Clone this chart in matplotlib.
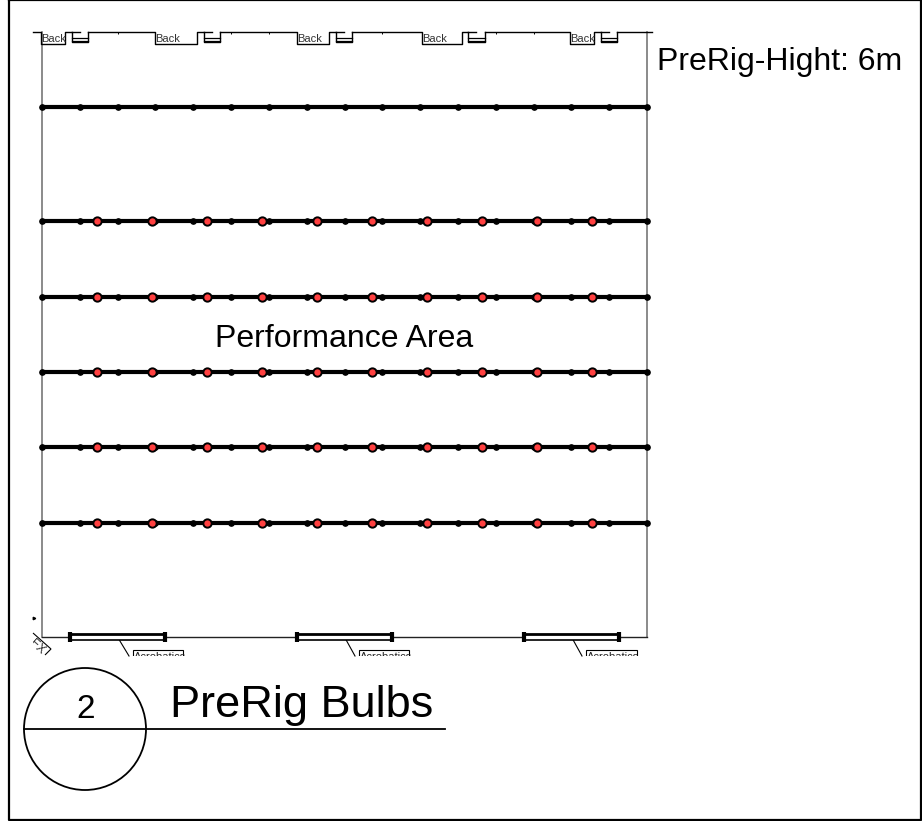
import matplotlib
matplotlib.use('Agg')
import matplotlib.pyplot as plt
from matplotlib.patches import Circle, Rectangle, Polygon

plt.rcParams['font.family'] = ['Liberation Sans', 'DejaVu Sans']

# rig bars (pixel coordinates of the drawing)
rig_y = [107, 221, 297, 372, 447, 523]
rig_left = 42
rig_right = 647
dot_x = [42, 80, 118, 155, 193, 231, 269, 307, 345, 382, 420, 458, 496, 534, 571, 609, 647]
bulb_x = [97, 152, 207, 262, 317, 372, 427, 482, 537, 592]
bulb_rows = [221, 297, 372, 447, 523]

# top wall: box start, box end, notch start, notch end
back_start = [41, 155, 297, 421.5, 570]
back_end = [64.5, 197, 329, 461.5, 594]
notch_start = [72, 204, 336, 468, 601]
notch_end = [88, 220, 352, 485, 617]
tick_x = [118, 231, 269, 382, 496, 534]

# acrobatics rails
rail_start = [70, 297, 524]
rail_end = [165, 392, 619]
label_start = [133, 359, 586]
label_end = [183, 409, 637]

fig = plt.figure(figsize=(9.22, 8.21), dpi=100)
ax = fig.add_axes([0, 0, 1, 1])
ax.set_xlim(0, 922)
ax.set_ylim(821, 0)
ax.axis('off')

# outer frame
ax.plot([8.5, 8.5, 921, 921, 8.5], [0.5, 820, 820, 0.5, 0.5], color='black', lw=1.6)

# stage outline
ax.plot([42, 42], [32, 637], color='#777777', lw=1.2)
ax.plot([647, 647], [32, 637], color='#777777', lw=1.2)
ax.plot([42, 647], [637, 637], color='#222222', lw=1)

# top wall
prev = 33
for bs, be, ns, ne in zip(back_start, back_end, notch_start, notch_end):
    ax.plot([prev, bs, bs, be, be, ns - 1], [32, 32, 44.5, 44.5, 32, 32], color='black', lw=1)
    ax.plot([ns, ns, ne, ne], [32, 42.5, 42.5, 32], color='black', lw=1)
    ax.plot([ns, ne], [38.5, 38.5], color='black', lw=0.9)
    ax.plot([ns, ne], [41, 41], color='black', lw=0.9)
    ax.plot([ns, ns + 8], [32, 32], color='black', lw=1)
    ax.text(bs + 0.5, 39, 'Back', fontsize=8, va='center', ha='left', color='#333333')
    prev = ne
ax.plot([prev, 652], [32, 32], color='black', lw=1)
ax.plot(tick_x, [33] * len(tick_x), ls='none', marker='|', ms=1.5, color='black', mew=0.7)

# rig bars and bulbs
for y in rig_y:
    ax.plot([rig_left, rig_right], [y, y], color='black', lw=3, solid_capstyle='butt')
    ax.plot(dot_x, [y] * len(dot_x), ls='none', marker='o', ms=3.8, color='black')
for y in bulb_rows:
    ax.plot(bulb_x, [y] * len(bulb_x), ls='none', marker='o', ms=6,
            markerfacecolor='#ff4040', markeredgecolor='black', markeredgewidth=1.4)

# acrobatics rails with clipped labels
clip = Rectangle((0, 0), 922, 656, transform=ax.transData)
for rs, re, ls, le in zip(rail_start, rail_end, label_start, label_end):
    ax.add_patch(Rectangle((rs, 635), re - rs, 5.5, facecolor='white', edgecolor='none', zorder=3))
    ax.plot([rs, re], [634.5, 634.5], color='black', lw=2, zorder=4)
    ax.plot([rs, re], [640.5, 640.5], color='black', lw=1.2, zorder=4)
    ax.plot([rs, rs], [632, 642.5], color='black', lw=3, solid_capstyle='butt', zorder=4)
    ax.plot([re, re], [632, 642.5], color='black', lw=3, solid_capstyle='butt', zorder=4)
    mid = (rs + re) / 2
    ax.plot([mid, ls - 4], [637, 656], color='black', lw=0.8)
    box = Rectangle((ls, 650), le - ls, 12, facecolor='white', edgecolor='black', lw=0.8)
    ax.add_patch(box)
    box.set_clip_path(clip)
    t = ax.text(ls + 1, 652, 'Acrobatics', fontsize=8, va='top', ha='left', color='#222222', clip_on=True)
    t.set_clip_path(clip)

# FX tag, cut off on its left side, and small tick
fx_clip = Rectangle((33, 625), 30, 31, transform=ax.transData)
fx = Polygon([[33, 633], [51, 649], [45, 655]], closed=False, fill=False,
             edgecolor='black', lw=0.8)
ax.add_patch(fx)
fx_label = ax.text(37, 647, 'FX', fontsize=9, rotation=-42, ha='center', va='center',
                   color='#333333', clip_on=True)
fx_label.set_clip_path(fx_clip)
ax.plot([34], [618], marker='>', ms=1.8, color='black')

# title block
ax.add_patch(Circle((85, 729), 61, fill=False, edgecolor='black', lw=1.3))
ax.plot([24, 445], [729, 729], color='black', lw=1.3)
ax.text(86, 710, '2', fontsize=24, ha='center', va='center', color='black')
ax.text(170, 705, 'PreRig Bulbs', fontsize=32.5, ha='left', va='center', color='black')
ax.text(344, 339, 'Performance Area', fontsize=23, ha='center', va='center', color='black')
ax.text(657, 62, 'PreRig-Hight: 6m', fontsize=23, ha='left', va='center', color='black')

fig.savefig('out.png', dpi=100)
